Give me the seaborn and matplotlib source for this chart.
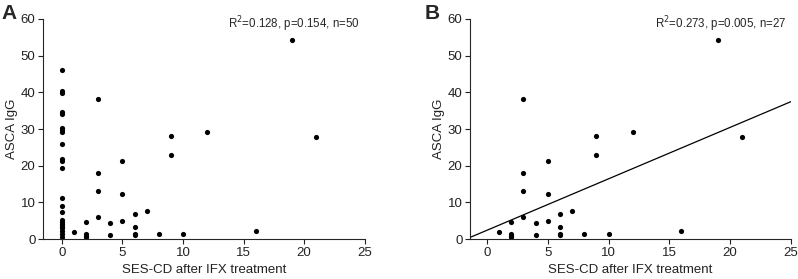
import numpy as np
import pandas as pd
import matplotlib
matplotlib.use("Agg")
import matplotlib.pyplot as plt
import seaborn as sns

# patients with SES-CD > 0 after IFX (panel B)
ses_pos = [1, 2, 2, 2, 2, 3, 3, 3, 3, 4, 4, 5, 5, 5, 6, 6, 6, 6, 7, 8, 9, 9, 10, 12, 16, 19, 21]
asca_pos = [2.0, 4.7, 1.3, 0.9, 0.5, 38.3, 18.0, 13.0, 6.1, 4.5, 1.0, 21.2, 12.4, 4.8,
            6.8, 3.4, 1.3, 1.0, 7.6, 1.5, 28.2, 22.8, 1.5, 29.2, 2.1, 54.3, 27.7]

# patients with SES-CD == 0 (only in panel A)
asca_zero = [46.0, 40.5, 39.7, 34.7, 34.2, 30.3, 29.8, 29.3, 26.0, 21.7, 21.2, 19.3,
             11.3, 9.0, 7.3, 5.3, 4.7, 4.2, 3.6, 3.0, 2.3, 1.5, 0.7]

df_all = pd.DataFrame({"ses": [0] * len(asca_zero) + ses_pos,
                       "asca": asca_zero + asca_pos})
df_pos = pd.DataFrame({"ses": ses_pos, "asca": asca_pos})

sns.set_style("ticks")
plt.rcParams["font.family"] = ["Liberation Sans", "DejaVu Sans"]

fig = plt.figure(figsize=(7.98, 2.79), dpi=100)
ax1 = fig.add_axes([0.054, 0.143, 0.403, 0.789])
ax2 = fig.add_axes([0.589, 0.143, 0.402, 0.789])

notes = ["R$^2$=0.128, p=0.154, n=50", "R$^2$=0.273, p=0.005, n=27"]
xmins = [-1.55, -1.4]

# limits first so the fitted line spans the whole axis
for ax, xmin in zip([ax1, ax2], xmins):
    ax.set_xlim(xmin, 25)
    ax.set_ylim(0, 60)

sns.scatterplot(data=df_all, x="ses", y="asca", ax=ax1, color="black",
                s=14, linewidth=0)
sns.regplot(data=df_pos, x="ses", y="asca", ax=ax2, ci=None, truncate=False,
            scatter_kws={"s": 14, "color": "black", "linewidths": 0, "alpha": 1},
            line_kws={"color": "black", "lw": 0.9})

for ax, note, xmin in zip([ax1, ax2], notes, xmins):
    ax.set_xlim(xmin, 25)
    ax.set_ylim(0, 60)
    ax.set_xticks([0, 5, 10, 15, 20, 25])
    ax.set_yticks([0, 10, 20, 30, 40, 50, 60])
    ax.set_xlabel("SES-CD after IFX treatment", fontsize=9.5, color="#222222")
    ax.set_ylabel("ASCA IgG", fontsize=9.5, color="#222222", labelpad=2)
    ax.tick_params(labelsize=9.5, length=3.5, width=0.8, pad=2, colors="#222222")
    for sp in ["left", "bottom"]:
        ax.spines[sp].set_linewidth(0.8)
    sns.despine(ax=ax)
    ax.text(24.6, 58.5, note, ha="right", va="center", fontsize=8.3)

fig.text(0.002, 0.985, "A", fontsize=15, fontweight="bold", va="top")
fig.text(0.532, 0.985, "B", fontsize=15, fontweight="bold", va="top")

fig.savefig("out.png", dpi=100)
